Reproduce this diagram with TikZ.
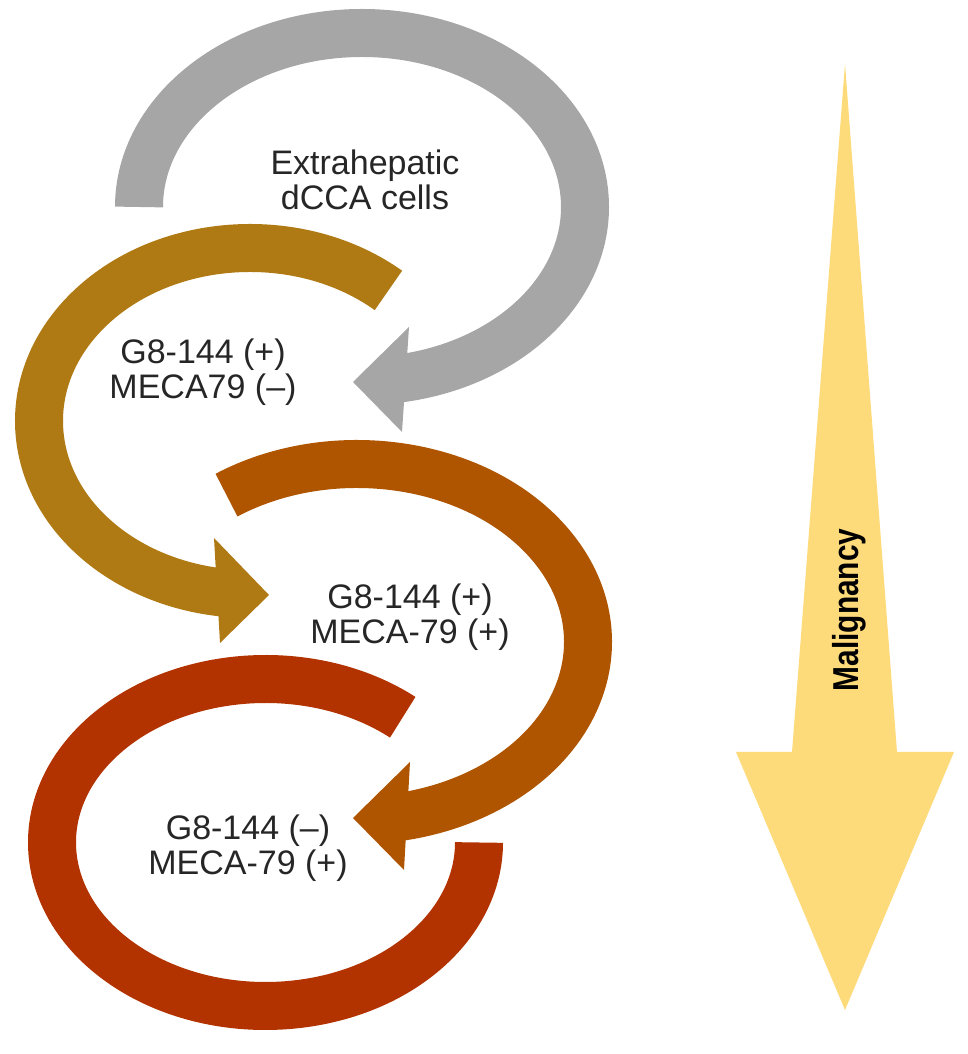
\documentclass[tikz,border=0pt]{standalone}
\usepackage{fontspec}
\setmainfont{Liberation Sans}
\newfontfamily\malfont[FakeStretch=0.83]{Liberation Sans}
\begin{document}
\begin{tikzpicture}[x=1pt,y=1pt,
  ring/.style={line width=48pt, line cap=butt},
  lbl/.style={align=center, inner sep=0pt, font=\fontsize{34}{35}\selectfont, text=black!85}]
\definecolor{cgray}{RGB}{166,166,166}
\definecolor{cgold}{RGB}{175,122,19}
\definecolor{corange}{RGB}{175,85,0}
\definecolor{cred}{RGB}{178,51,0}
\definecolor{cyellow}{RGB}{253,218,122}
\useasboundingbox (0,0) rectangle (968,1054);

% gray ring
\coordinate (g0) at (362,847);
\draw[ring, cgray] (g0) ++(180:223 and 174) arc[start angle=180, end angle=-82, x radius=223, y radius=174];
\fill[cgray] (353,672) -- (409,727) -- (402,622) -- cycle;

% gold ring
\coordinate (a0) at (250,633);
\draw[ring, cgold] (a0) ++(49:211 and 173) arc[start angle=49, end angle=264, x radius=211, y radius=173];
\fill[cgold] (269,459) -- (214,516) -- (220,411) -- cycle;

% orange ring
\coordinate (o0) at (357,412);
\draw[ring, corange] (o0) ++(124.4:231 and 178) arc[start angle=124.4, end angle=-81, x radius=231, y radius=178];
\fill[corange] (353,236) -- (410,292) -- (404,184) -- cycle;

% red ring
\coordinate (r0) at (265.5,211.5);
\draw[ring, cred] (r0) ++(50:213.5 and 163.5) arc[start angle=50, end angle=360, x radius=213.5, y radius=163.5];

% malignancy arrow
\fill[cyellow] (845,990) -- (897,302) -- (954,302) -- (845,44) -- (736,302) -- (792,302) -- cycle;
\node[rotate=90, inner sep=0pt, font=\fontsize{36}{40}\malfont\bfseries] (mal) at (849,444) {Malignancy};

% labels
\node[lbl] (t0) at (365,874) {Extrahepatic\\dCCA cells};
\node[lbl] (t1) at (203,682) {G8-144 (+)\\MECA79 (–)};
\node[lbl] (t2) at (410,437) {G8-144 (+)\\MECA-79 (+)};
\node[lbl] (t3) at (248,205.5) {G8-144 (–)\\MECA-79 (+)};
\end{tikzpicture}
\end{document}
